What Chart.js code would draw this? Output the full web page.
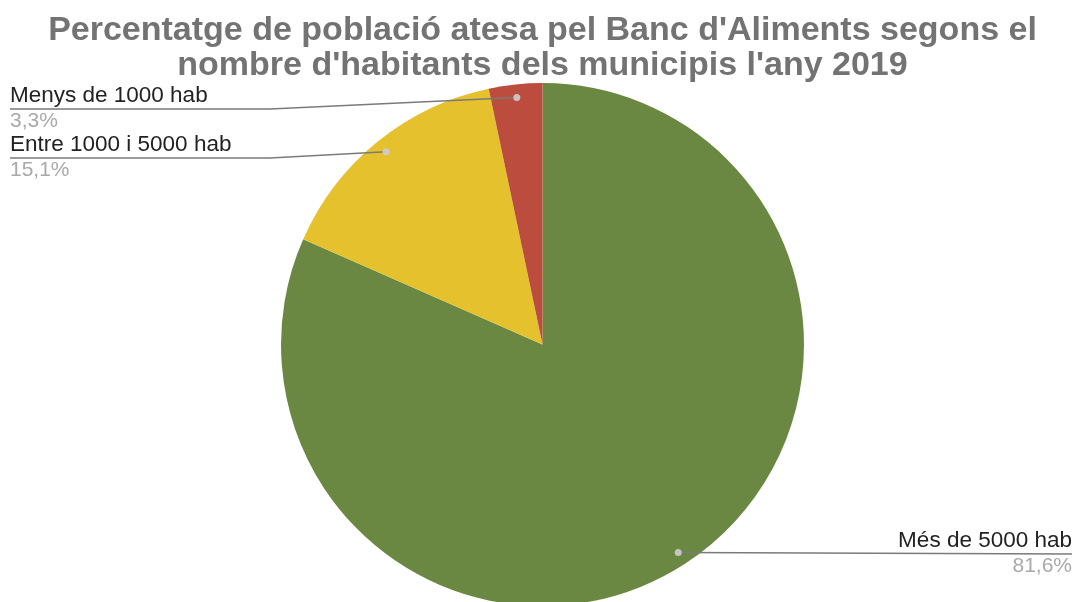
<!DOCTYPE html>
<html>
<head>
<meta charset="utf-8">
<script src="https://cdn.jsdelivr.net/npm/chart.js@4"></script>
<style>
  html, body { margin: 0; padding: 0; background: #fff; overflow: hidden; }
  canvas { display: block; }
</style>
</head>
<body>
<canvas id="chart" width="1079" height="640"></canvas>
<script>
// Data
const categories = ['Més de 5000 hab', 'Entre 1000 i 5000 hab', 'Menys de 1000 hab'];
const percentages = [81.6, 15.1, 3.3];
const sliceColors = ['#6a8841', '#e5c22d', '#bb4c3e'];

const FONT = '"Liberation Sans", Arial, sans-serif';

// where each callout sits: side, x of text, y of underline, x where the leader bends
const callouts = [
  { side: 'right', x: 1072, lineY: 554, bendX: null },
  { side: 'left', x: 10, lineY: 158, bendX: 270 },
  { side: 'left', x: 10, lineY: 109, bendX: 270 }
];

const calloutPlugin = {
  id: 'callouts',
  afterDatasetsDraw(chart) {
    const ctx = chart.ctx;
    const arcs = chart.getDatasetMeta(0).data;
    ctx.save();
    arcs.forEach((arc, i) => {
      const c = callouts[i];
      const mid = (arc.startAngle + arc.endAngle) / 2;
      const r = arc.outerRadius * 0.95;
      const px = arc.x + Math.cos(mid) * r;
      const py = arc.y + Math.sin(mid) * r;

      // leader line
      ctx.strokeStyle = '#7a7a7a';
      ctx.lineWidth = 1.5;
      ctx.beginPath();
      if (c.side === 'left') {
        ctx.moveTo(c.x, c.lineY);
        ctx.lineTo(c.bendX, c.lineY);
        ctx.lineTo(px, py);
      } else {
        ctx.moveTo(px, py);
        ctx.lineTo(c.x, c.lineY);
      }
      ctx.stroke();

      // dot
      ctx.fillStyle = 'rgba(205, 205, 205, 0.9)';
      ctx.beginPath();
      ctx.arc(px, py, 3.5, 0, Math.PI * 2);
      ctx.fill();

      // texts
      ctx.textAlign = c.side === 'left' ? 'left' : 'right';
      ctx.textBaseline = 'alphabetic';
      ctx.font = '22.5px ' + FONT;
      ctx.fillStyle = '#222222';
      ctx.fillText(categories[i], c.x, c.lineY - 7);
      ctx.font = '21px ' + FONT;
      ctx.fillStyle = '#a9a9a9';
      ctx.fillText(percentages[i].toFixed(1).replace('.', ',') + '%', c.x, c.lineY + 18);
    });
    ctx.restore();
  }
};

new Chart(document.getElementById('chart'), {
  type: 'pie',
  data: {
    labels: categories,
    datasets: [{
      data: percentages,
      backgroundColor: sliceColors,
      borderWidth: 0
    }]
  },
  options: {
    responsive: false,
    animation: false,
    layout: {
      padding: { top: -7, bottom: 34, left: 6, right: 0 }
    },
    plugins: {
      legend: { display: false },
      tooltip: { enabled: false },
      title: {
        display: true,
        text: ["Percentatge de població atesa pel Banc d'Aliments segons el",
               "nombre d'habitants dels municipis l'any 2019"],
        color: '#737373',
        font: { family: FONT, size: 34, weight: 'bold', lineHeight: 1.03 },
        padding: { top: 20, bottom: 0 }
      }
    }
  },
  plugins: [calloutPlugin]
});
</script>
</body>
</html>
